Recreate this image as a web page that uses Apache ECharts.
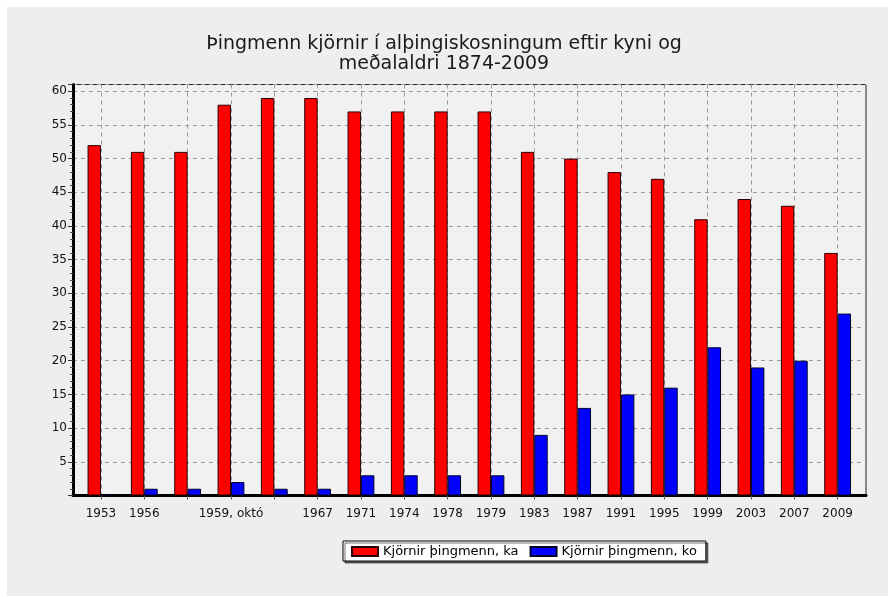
<!DOCTYPE html>
<html>
<head>
<meta charset="utf-8">
<script src="https://cdn.jsdelivr.net/npm/echarts@6/dist/echarts.min.js"></script>
<style>
html,body{margin:0;padding:0;background:#fff;}
#chart{width:888px;height:597px;}
</style>
</head>
<body>
<div id="chart"></div>
<script>
// ---- data ----
var categories = ["1953","1956","1959, júní","1959, októ","1963","1967","1971","1974","1978","1979","1983","1987","1991","1995","1999","2003","2007","2009"];
var hiddenLabels = [2, 4];
var karlar = [52,51,51,58,59,59,57,57,57,57,51,50,48,47,41,44,43,36];
var konur = [0,1,1,2,1,1,3,3,3,3,9,13,15,16,22,19,20,27];
var seriesNames = ["Kjörnir þingmenn, ka", "Kjörnir þingmenn, ko"];
var titleText = "Þingmenn kjörnir í alþingiskosningum eftir kyni og\nmeðalaldri 1874-2009";

var FONT = "'DejaVu Sans', Verdana, sans-serif";
var chart = echarts.init(document.getElementById('chart'));
var yMax = 61;
var option = {
  backgroundColor: '#ffffff',
  animation: false,
  graphic: [{
    type: 'rect', left: 7, top: 7, z: -10,
    shape: {width: 881, height: 589},
    style: {fill: '#eeeeee'}
  }],
  title: {
    text: titleText,
    left: 'center',
    top: 34,
    padding: [0, 0, 0, 29],
    textStyle: {fontFamily: FONT, fontSize: 19, fontWeight: 'normal', color: '#1a1a1a', lineHeight: 20}
  },
  legend: {
    data: seriesNames,
    icon: 'rect',
    left: 343, top: 541,
    itemWidth: 26, itemHeight: 9, itemGap: 11,
    padding: [4, 9, 3, 8],
    backgroundColor: '#ffffff',
    borderColor: '#000', borderWidth: 1,
    shadowColor: 'rgba(0,0,0,0.55)', shadowOffsetX: 2, shadowOffsetY: 2, shadowBlur: 0,
    textStyle: {fontFamily: FONT, fontSize: 13, color: '#000'}
  },
  grid: [
    {left: 73, right: 22, top: 84.5, bottom: 101.5, show: true, backgroundColor: '#f1f1f1', borderColor: '#222', borderWidth: 1},
    {left: 79.3, right: 28.7, top: 84.5, bottom: 101.5}
  ],
  xAxis: [
    {gridIndex: 0, type: 'value', min: 0, max: 1,
      axisLine: {show: true, lineStyle: {color: '#000', width: 3}},
      axisTick: {show: false}, axisLabel: {show: false}, splitLine: {show: false}},
    {gridIndex: 1, type: 'category', data: categories,
      axisLine: {show: false},
      axisTick: {show: true, alignWithLabel: true, interval: 0, length: 4, lineStyle: {color: '#555'}},
      axisLabel: {
        interval: function (i) { return hiddenLabels.indexOf(i) < 0; },
        margin: 12, fontFamily: FONT, fontSize: 12, color: '#111'
      },
      splitLine: {show: true, alignWithLabel: true, interval: 0, lineStyle: {color: '#9a9a9a', type: [4, 4], width: 1}}
    }
  ],
  yAxis: [
    {gridIndex: 0, type: 'value', min: 0, max: yMax, interval: 5,
      axisLine: {show: true, lineStyle: {color: '#000', width: 3}},
      axisTick: {show: true, length: 5, lineStyle: {color: '#333'}},
      minorTick: {show: true, splitNumber: 5, length: 3, lineStyle: {color: '#555'}},
      axisLabel: {
        formatter: function (v) { return (v > 0 && v % 5 === 0) ? String(v) : ''; },
        margin: 6, fontFamily: FONT, fontSize: 12, color: '#111'
      },
      splitLine: {show: true, lineStyle: {color: '#9a9a9a', type: [4, 4], width: 1}}
    },
    {gridIndex: 1, type: 'value', min: 0, max: yMax, show: false, splitLine: {show: false}}
  ],
  series: [
    {name: seriesNames[0], type: 'bar', xAxisIndex: 1, yAxisIndex: 1, data: karlar,
      barWidth: 13.4, barGap: '0%',
      itemStyle: {color: '#ff0000', borderColor: '#2a0000', borderWidth: 1}},
    {name: seriesNames[1], type: 'bar', xAxisIndex: 1, yAxisIndex: 1, data: konur,
      barWidth: 13.4, barGap: '0%',
      itemStyle: {color: '#0000ff', borderColor: '#00002a', borderWidth: 1}}
  ]
};
chart.setOption(option);
</script>
</body>
</html>
